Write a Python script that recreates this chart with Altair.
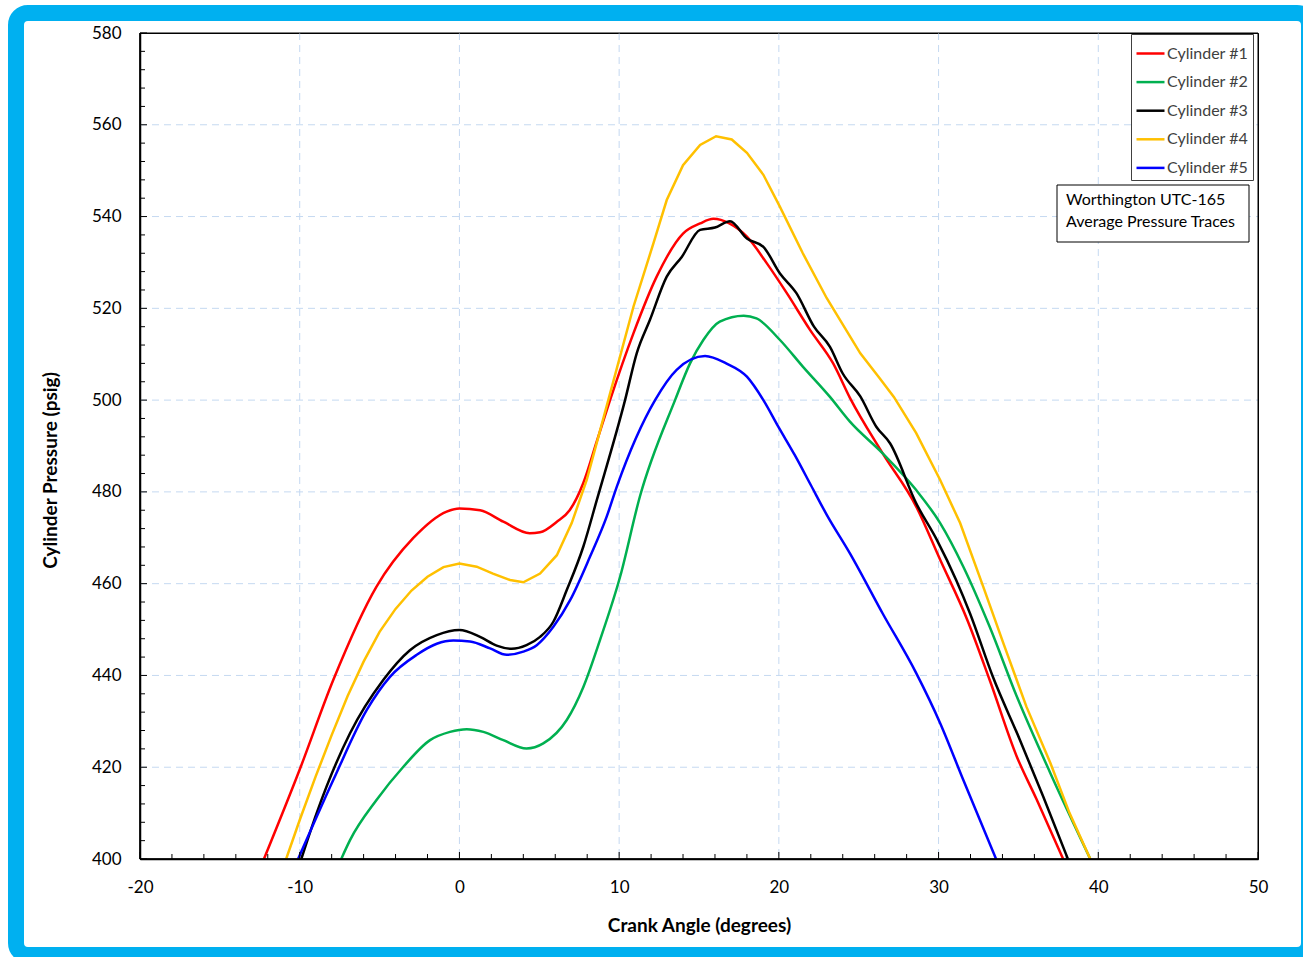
import altair as alt
import pandas as pd

# ---------------- data ----------------
series_names = ["Cylinder #1", "Cylinder #2", "Cylinder #3", "Cylinder #4", "Cylinder #5"]
series_colors = ["#FF0000", "#00B050", "#000000", "#FFC000", "#0000FF"]

cyl1_x = [-12.24, -10, -7.9, -5.2, -2.9, -0.8, 0, 1.3, 2.75, 4.4, 5.05, 6.1, 6.9, 7.75, 8.6,
          9.43, 10.9, 12.35, 14.0, 15.07, 15.9, 16.9, 18.0, 19.25, 20.5, 21.95, 23.4, 24.45,
          26.5, 28.6, 30.1, 31.8, 33.2, 34.9, 36.15, 37.8]
cyl1_y = [400, 419.5, 439, 459.3, 469.9, 475.7, 476.4, 476, 473.5, 471, 471.2, 473.5, 476, 481.9, 491,
          500, 514.6, 526.9, 536.3, 538.5, 539.5, 538.5, 535.6, 529.8, 523.3, 515.3, 508, 500.5,
          488.4, 476.8, 465.2, 452.1, 439, 422.3, 412.9, 400]

cyl2_x = [-7.4, -6.85, -5.18, -3.51, -1.84, -0.59, 0.46, 1.5, 2.75, 4.2, 5.25, 6.72, 7.76, 8.8,
          10.06, 11.3, 13.5, 14.44, 15.27, 16.3, 17.8, 18.6, 20.07, 21.5, 23.2, 24.45, 26.5,
          28.6, 30.1, 31.55, 33.2, 34.9, 37.0, 39.5]
cyl2_y = [400, 404.1, 412.9, 420.1, 425.9, 427.7, 428.3, 427.7, 425.9, 424.1, 425.2, 430.3, 437.5, 447.7,
          461.5, 479, 500, 508, 513.1, 517.1, 518.4, 517.8, 513.1, 507.3, 500.7, 495.3, 488.4,
          480.4, 473.2, 463.7, 450.6, 435.4, 418.7, 400]

cyl3_x = [-9.9, -8.94, -6.85, -4.77, -3.1, -1.42, 0, 1.29, 2.33, 3.27, 4.2, 5.05, 5.88, 6.72, 7.76,
          8.6, 10.37, 11.1, 11.93, 12.98, 13.92, 15.07, 16.0, 16.94, 18.0, 19.03, 20.07, 21.1,
          22.2, 23.2, 24.0, 25.1, 26.1, 26.96, 28.6, 29.9, 31.1, 31.97, 33.4, 35.1, 36.55, 38.1]
cyl3_y = [400, 410, 427.4, 439, 445.5, 448.8, 449.9, 448.4, 446.5, 445.8, 446.6, 448.4, 451.7, 458.6, 468.1,
          478.2, 500, 510.2, 517.5, 526.9, 531.2, 537.1, 537.6, 539, 535.2, 533.4, 527.6, 523.3,
          516, 511.6, 505.8, 500.8, 494.2, 490.6, 477.5, 469.5, 460.8, 453.5, 439.7, 425.9, 413.6, 400]

cyl4_x = [-10.85, -10, -9, -8, -7, -6, -5, -4, -3, -2, -1, 0, 1.08, 2.1, 3.17, 4.0, 5.05,
          6.1, 7.03, 7.97, 9.32, 10.9, 12.15, 12.98, 14.0, 15.07, 16.07, 17.05, 18.0, 19.03,
          20.07, 21.5, 23.0, 25.1, 26.3, 27.2, 28.6, 30.1, 31.35, 32.8, 34.06, 35.5, 37.0, 38.2, 39.5]
cyl4_y = [400, 408.5, 418, 427, 435.5, 443, 449.5, 454.5, 458.5, 461.5, 463.6, 464.4, 463.7, 462.2,
          460.8, 460.3, 462.2, 466.2, 473.2, 482.6, 500, 520.4, 534.2, 543.6, 551.2, 555.6, 557.5,
          556.8, 553.9, 549.1, 542.1, 532, 522.2, 510.2, 504.8, 500.7, 492.8, 482.6, 473.2, 459.3,
          447, 433.2, 420.9, 410, 400]

cyl5_x = [-10.1, -7.9, -5.8, -4.35, -2.67, -1.42, -0.38, 0.66, 1.92, 2.96, 4.0, 4.84, 5.88, 6.93,
          8.18, 9.22, 9.85, 12.25, 13.6, 15.38, 16.7, 18.0, 19.03, 20.0, 21.0, 22.0, 23.0, 24.45,
          26.5, 28.6, 30.1, 31.55, 33.6]
cyl5_y = [400, 417.2, 432.5, 439.7, 444.5, 446.9, 447.6, 447.4, 445.9, 444.5, 445.2, 446.6, 450.6, 456.4,
          465.9, 474.6, 481.1, 500, 506.6, 509.6, 508, 505.1, 500, 494, 488, 481.5, 475, 466.6,
          453.5, 440.5, 429.6, 417.2, 400]

x_tick_values = [-20, -10, 0, 10, 20, 30, 40, 50]
y_tick_values = [400, 420, 440, 460, 480, 500, 520, 540, 560, 580]
x_grid_values = [-10, 0, 10, 20, 30, 40]
y_grid_values = [420, 440, 460, 480, 500, 520, 540, 560]
x_minor_values = [v for v in range(-18, 50, 2) if v % 10 != 0]
y_minor_values = [v for v in range(404, 580, 4) if v % 20 != 0]
x_major_values = x_tick_values
y_major_values = y_tick_values

note_lines = ["Worthington UTC-165", "Average Pressure Traces"]

# ---------------- build tables ----------------
rows = []
for name, xs, ys in zip(series_names,
                        [cyl1_x, cyl2_x, cyl3_x, cyl4_x, cyl5_x],
                        [cyl1_y, cyl2_y, cyl3_y, cyl4_y, cyl5_y]):
    for i, (a, p) in enumerate(zip(xs, ys)):
        rows.append({"series": name, "angle": a, "pressure": p, "idx": i})
df = pd.DataFrame(rows)

W, H = 1118, 826
FONT = "Lato"
GRID = "#C5D9F1"

xscale = alt.Scale(domain=[-20, 50], nice=False, zero=False)
yscale = alt.Scale(domain=[400, 580], nice=False, zero=False)
cscale = alt.Scale(domain=series_names, range=series_colors)

x_axis = alt.Axis(values=x_tick_values, title="Crank Angle (degrees)", titleFont=FONT,
                  titleFontSize=19, titleFontWeight="bold", titleColor="#000000",
                  titlePadding=21, labelFont=FONT, labelFontSize=17, labelColor="#000000",
                  labelPadding=20, labelExpr="'' + datum.value",
                  ticks=False, tickSize=0, labelFlush=False, labelOverlap=False,
                  domainColor="#000000", domainWidth=1.5, grid=False)
y_axis = alt.Axis(values=y_tick_values, title="Cylinder Pressure (psig)", titleFont=FONT,
                  titleFontSize=19, titleFontWeight="bold", titleColor="#000000",
                  titleAngle=270, titleAlign="center", titleBaseline="middle",
                  titleX=-90, titleY=437,
                  labelFont=FONT, labelFontSize=17, labelColor="#000000", labelPadding=19,
                  labelExpr="'' + datum.value",
                  ticks=False, tickSize=0, labelFlush=False, labelOverlap=False,
                  domainColor="#000000", domainWidth=1.5, grid=False)

legend = alt.Legend(title=None, orient="none", legendX=991, legendY=1, symbolType="stroke",
                    symbolSize=784, symbolStrokeWidth=2.5, labelFont=FONT, labelFontSize=16,
                    labelColor="#404040", labelOffset=1, rowPadding=4.6, padding=4, titlePadding=0,
                    strokeColor="#404040", fillColor="white")

one = pd.DataFrame({"k": [0]})

frame = alt.Chart(one).mark_rect(fill="transparent", stroke="#00B0F0", strokeWidth=16,
                                 cornerRadius=12).encode(
    x=alt.value(-124), x2=alt.value(1169), y=alt.value(-20), y2=alt.value(922))

x_grid = alt.Chart(pd.DataFrame({"angle": x_grid_values})).mark_rule(
    color=GRID, strokeWidth=1, strokeDash=[7, 5]).encode(
    x=alt.X("angle:Q", scale=xscale), y=alt.value(0), y2=alt.value(H))
y_grid = alt.Chart(pd.DataFrame({"pressure": y_grid_values})).mark_rule(
    color=GRID, strokeWidth=1, strokeDash=[7, 5]).encode(
    y=alt.Y("pressure:Q", scale=yscale), x=alt.value(0), x2=alt.value(W))

base_enc = dict(
    x=alt.X("angle:Q", scale=xscale, axis=x_axis),
    y=alt.Y("pressure:Q", scale=yscale, axis=y_axis),
    color=alt.Color("series:N", scale=cscale, legend=legend),
    order=alt.Order("idx:Q"),
)

lines_a = alt.Chart(df).transform_filter(
    alt.FieldOneOfPredicate(field="series", oneOf=["Cylinder #1", "Cylinder #2", "Cylinder #3"])
).mark_line(strokeWidth=2.5, interpolate="monotone", clip=True).encode(**base_enc)
lines_b = alt.Chart(df).transform_filter(
    alt.FieldEqualPredicate(field="series", equal="Cylinder #4")
).mark_line(strokeWidth=2.5, interpolate="linear", clip=True).encode(**base_enc)
lines_c = alt.Chart(df).transform_filter(
    alt.FieldEqualPredicate(field="series", equal="Cylinder #5")
).mark_line(strokeWidth=2.5, interpolate="monotone", clip=True).encode(**base_enc)

plot_border = alt.Chart(one).mark_rect(fill="transparent", stroke="#000000", strokeWidth=1).encode(
    x=alt.value(0), x2=alt.value(W), y=alt.value(0), y2=alt.value(H))

xt_minor = alt.Chart(pd.DataFrame({"angle": x_minor_values})).mark_rule(color="#000000", strokeWidth=1).encode(
    x=alt.X("angle:Q", scale=xscale), y=alt.value(H), y2=alt.value(H - 5))
xt_major = alt.Chart(pd.DataFrame({"angle": x_major_values})).mark_rule(color="#000000", strokeWidth=1).encode(
    x=alt.X("angle:Q", scale=xscale), y=alt.value(H), y2=alt.value(H - 7))
yt_minor = alt.Chart(pd.DataFrame({"pressure": y_minor_values})).mark_rule(color="#000000", strokeWidth=1).encode(
    y=alt.Y("pressure:Q", scale=yscale), x=alt.value(0), x2=alt.value(5))
yt_major = alt.Chart(pd.DataFrame({"pressure": y_major_values})).mark_rule(color="#000000", strokeWidth=1).encode(
    y=alt.Y("pressure:Q", scale=yscale), x=alt.value(0), x2=alt.value(7))
x_domain = alt.Chart(one).mark_rule(color="#000000", strokeWidth=1.5).encode(
    x=alt.value(0), x2=alt.value(W), y=alt.value(H))
y_domain = alt.Chart(one).mark_rule(color="#000000", strokeWidth=1.5).encode(
    x=alt.value(0), y=alt.value(0), y2=alt.value(H))

note_box = alt.Chart(one).mark_rect(fill="white", stroke="#000000", strokeWidth=1).encode(
    x=alt.value(917), x2=alt.value(1109), y=alt.value(152), y2=alt.value(209))
note1 = alt.Chart(one).mark_text(align="left", baseline="middle", font=FONT, fontSize=16,
                                 color="#000000").encode(
    x=alt.value(926), y=alt.value(167), text=alt.value(note_lines[0]))
note2 = alt.Chart(one).mark_text(align="left", baseline="middle", font=FONT, fontSize=16,
                                 color="#000000").encode(
    x=alt.value(926), y=alt.value(189), text=alt.value(note_lines[1]))

chart = alt.layer(frame, x_grid, y_grid, lines_a, lines_b, lines_c, plot_border, x_domain, y_domain,
                  xt_minor, xt_major, yt_minor, yt_major,
                  note_box, note1, note2).properties(
    width=W, height=H,
    autosize=alt.AutoSizeParams(type="none"),
    padding={"left": 140, "top": 33, "right": 45, "bottom": 98},
    background="white",
).configure_view(stroke="#000000", strokeWidth=1)

chart.save("out.html", embed_options={"renderer": "svg", "actions": False})
